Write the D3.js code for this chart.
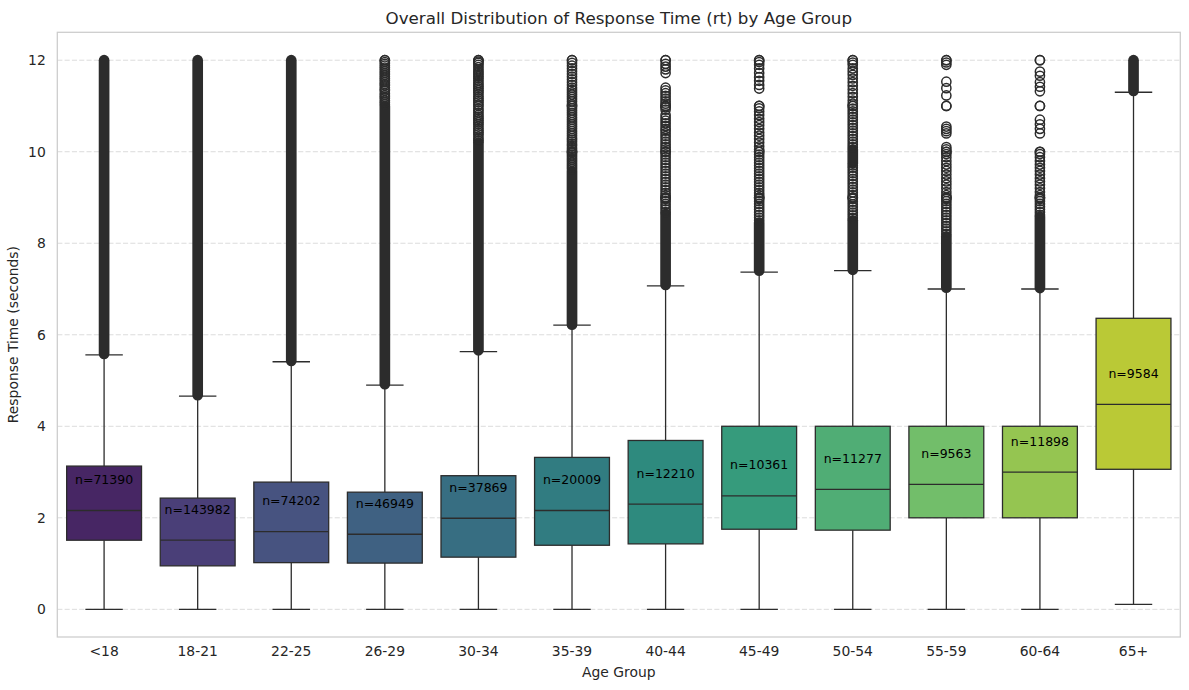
<!DOCTYPE html>
<html>
<head>
<meta charset="utf-8">
<script src="https://cdn.jsdelivr.net/npm/d3@7"></script>
<style>
  body { margin: 0; background: #fff; }
  text { font-family: "DejaVu Sans", sans-serif; }
</style>
</head>
<body>
<svg width="1189" height="690"></svg>
<script>
const ageGroups = ["<18","18-21","22-25","26-29","30-34","35-39","40-44","45-49","50-54","55-59","60-64","65+"];
const counts = [71390,143982,74202,46949,37869,20009,12210,10361,11277,9563,11898,9584];
const q1 = [1.51,0.95,1.02,1.01,1.14,1.40,1.43,1.75,1.73,2.0,2.0,3.06];
const medians = [2.16,1.51,1.70,1.64,1.99,2.16,2.30,2.48,2.62,2.73,3.0,4.48];
const q3 = [3.13,2.43,2.78,2.56,2.92,3.32,3.69,4.0,4.0,4.0,4.0,6.36];
const whiskerLow = [0,0,0,0,0,0,0,0,0,0,0,0.11];
const whiskerHigh = [5.56,4.66,5.41,4.90,5.63,6.21,7.07,7.37,7.40,7.0,7.0,11.3];
const labelPos = [2.83,2.19,2.37,2.32,2.66,2.83,2.96,3.16,3.29,3.40,3.66,5.16];
const yTicks = [0,2,4,6,8,10,12];

// outliers too packed to tell apart, as [from, to] runs
const denseOutliers = [
  [[5.58,12.0]],
  [[4.68,12.0]],
  [[5.43,12.0]],
  [[4.92,11.0]],
  [[5.66,10.2]],
  [[6.22,9.58]],
  [[7.09,8.64]],
  [[7.40,8.45]],
  [[7.42,8.5],[9.75,10.05]],
  [[7.03,8.15]],
  [[7.02,8.58]],
  [[11.33,12.0]]
];
const sparseOutliers = [
  [],
  [],
  [],
  [11.04,11.08,11.12,11.17,11.2,11.24,11.28,11.33,11.36,11.4,11.45,11.48,11.52,11.56,11.6,11.64,11.68,11.72,11.76,11.8,11.84,11.88,11.92,11.96,12.0,12.0],
  [10.24,10.28,10.33,10.38,10.42,10.46,10.5,10.55,10.6,10.64,10.68,10.72,10.76,10.8,10.85,10.9,10.94,11.0,11.03,11.08,11.12,11.16,11.2,11.25,11.3,11.34,11.38,11.42,11.46,11.5,11.55,11.6,11.64,11.68,11.72,11.76,11.8,11.85,11.9,11.94,11.97,12.0,12.0],
  [9.62,9.66,9.7,9.74,9.78,9.82,9.86,9.9,9.94,9.98,10.0,10.0,10.04,10.08,10.13,10.17,10.22,10.26,10.3,10.35,10.4,10.45,10.5,10.55,10.6,10.65,10.7,10.75,10.8,10.85,10.9,10.95,11.0,11.0,11.04,11.1,11.15,11.2,11.25,11.3,11.35,11.4,11.46,11.52,11.58,11.64,11.7,11.76,11.82,11.88,11.94,12.0,12.0],
  [8.68,8.74,8.8,8.86,8.92,8.97,9.0,9.0,9.05,9.1,9.16,9.22,9.28,9.34,9.4,9.46,9.52,9.58,9.64,9.7,9.76,9.82,9.88,9.94,10.0,10.0,10.05,10.1,10.16,10.22,10.28,10.34,10.4,10.46,10.5,10.56,10.62,10.68,10.74,10.8,10.92,10.97,11.0,11.0,11.05,11.1,11.16,11.22,11.28,11.34,11.4,11.72,11.8,11.86,11.92,12.0,12.0],
  [8.5,8.56,8.62,8.68,8.74,8.8,8.86,8.92,8.97,9.0,9.0,9.05,9.1,9.16,9.22,9.28,9.34,9.4,9.46,9.52,9.58,9.64,9.7,9.76,9.82,9.88,9.94,10.0,10.0,10.05,10.12,10.2,10.28,10.35,10.42,10.5,10.58,10.65,10.72,10.8,10.88,10.95,11.0,11.0,11.38,11.46,11.55,11.63,11.72,11.82,11.9,11.96,12.0,12.0],
  [8.55,8.61,8.67,8.73,8.79,8.85,8.91,8.97,9.0,9.0,9.05,9.11,9.17,9.23,9.29,9.35,9.41,9.47,9.53,9.59,9.65,9.7,10.1,10.16,10.22,10.28,10.34,10.4,10.46,10.52,10.58,10.64,10.7,10.76,10.82,10.88,10.94,11.0,11.0,11.05,11.12,11.2,11.28,11.36,11.44,11.52,11.6,11.68,11.75,11.82,11.9,11.95,12.0,12.0],
  [8.2,8.26,8.32,8.38,8.44,8.5,8.56,8.62,8.68,8.74,8.8,8.86,8.92,8.97,9.0,9.0,9.05,9.12,9.2,9.28,9.35,9.42,9.5,9.58,9.65,9.72,9.8,9.88,9.95,10.0,10.0,10.05,10.1,10.4,10.45,10.5,10.55,11.0,11.0,11.23,11.39,11.53,11.9,11.95,12.0,12.0],
  [8.62,8.68,8.74,8.8,8.86,8.92,8.97,9.0,9.0,9.05,9.12,9.2,9.28,9.35,9.42,9.5,9.58,9.65,9.72,9.8,9.88,9.95,10.0,10.0,10.4,10.5,10.6,10.7,11.0,11.0,11.32,11.42,11.52,11.66,11.75,12.0,12.0],
  []
];

const svgWidth = 1189;
const svgHeight = 690;
const margin = {top: 32.3, left: 57.3, bottom: 53, right: 8.7};
const width = svgWidth - margin.left - margin.right;
const height = svgHeight - margin.top - margin.bottom;

const lineColor = "#2c2c2c";
const textColor = "#262626";

const xScale = d3.scaleBand().domain(ageGroups).range([0, width]).padding(0);
const yScale = d3.scaleLinear().domain([-0.605, 12.61]).range([height, 0]);

const boxW = xScale.bandwidth() * 0.8;
const capW = boxW / 2;
const r = 4.6;

const color = ageGroups.map((g, i) => {
  const c = d3.hsl(d3.interpolateViridis((i + 1) / (ageGroups.length + 1)));
  c.s *= 0.75;
  return c.formatHex();
});

const svg = d3.select("svg");

const g = svg.append("g")
  .attr("transform", `translate(${margin.left},${margin.top})`);

// grid
g.append("g")
  .selectAll("line")
  .data(yTicks)
  .enter()
  .append("line")
  .attr("x1", 0)
  .attr("x2", width)
  .attr("y1", d => yScale(d))
  .attr("y2", d => yScale(d))
  .attr("stroke", "#dcdcdc")
  .attr("stroke-width", 1)
  .attr("stroke-dasharray", "5.1,2.2");

const yAxis = d3.axisLeft(yScale).tickValues(yTicks).tickSize(0).tickPadding(11.5);
g.append("g")
  .attr("class", "yAxis")
  .call(yAxis)
  .call(a => a.select(".domain").remove())
  .selectAll("text")
  .style("font-size", "13.9px")
  .attr("fill", textColor);

const xAxis = d3.axisBottom(xScale).tickSize(0).tickPadding(9.5);
g.append("g")
  .attr("class", "xAxis")
  .attr("transform", `translate(0,${height})`)
  .call(xAxis)
  .call(a => a.select(".domain").remove())
  .selectAll("text")
  .style("font-size", "13.9px")
  .attr("fill", textColor);

const boxes = g.selectAll(".box")
  .data(ageGroups)
  .enter()
  .append("g")
  .attr("class", "box")
  .attr("transform", d => `translate(${xScale(d) + xScale.bandwidth() / 2},0)`);

// whiskers
boxes.append("line")
  .attr("x1", 0).attr("x2", 0)
  .attr("y1", (d, i) => yScale(q3[i]))
  .attr("y2", (d, i) => yScale(whiskerHigh[i]))
  .attr("stroke", lineColor).attr("stroke-width", 1.3);
boxes.append("line")
  .attr("x1", 0).attr("x2", 0)
  .attr("y1", (d, i) => yScale(q1[i]))
  .attr("y2", (d, i) => yScale(whiskerLow[i]))
  .attr("stroke", lineColor).attr("stroke-width", 1.3);

// outliers
boxes.each(function(d, i) {
  const sel = d3.select(this);
  sel.selectAll(".dense")
    .data(denseOutliers[i])
    .enter()
    .append("line")
    .attr("class", "dense")
    .attr("x1", 0).attr("x2", 0)
    .attr("y1", v => yScale(v[0]))
    .attr("y2", v => yScale(v[1]))
    .attr("stroke", lineColor)
    .attr("stroke-width", 2 * r + 1.5)
    .attr("stroke-linecap", "round");
  sel.selectAll(".flier")
    .data(sparseOutliers[i])
    .enter()
    .append("circle")
    .attr("class", "flier")
    .attr("cx", 0)
    .attr("cy", v => yScale(v))
    .attr("r", r)
    .attr("fill", "none")
    .attr("stroke", lineColor)
    .attr("stroke-width", 1.5);
});

boxes.append("line")
  .attr("x1", -capW / 2).attr("x2", capW / 2)
  .attr("y1", (d, i) => yScale(whiskerHigh[i]))
  .attr("y2", (d, i) => yScale(whiskerHigh[i]))
  .attr("stroke", lineColor).attr("stroke-width", 1.3);
boxes.append("line")
  .attr("x1", -capW / 2).attr("x2", capW / 2)
  .attr("y1", (d, i) => yScale(whiskerLow[i]))
  .attr("y2", (d, i) => yScale(whiskerLow[i]))
  .attr("stroke", lineColor).attr("stroke-width", 1.3);

boxes.append("rect")
  .attr("x", -boxW / 2)
  .attr("width", boxW)
  .attr("y", (d, i) => yScale(q3[i]))
  .attr("height", (d, i) => yScale(q1[i]) - yScale(q3[i]))
  .attr("fill", (d, i) => color[i])
  .attr("stroke", lineColor)
  .attr("stroke-width", 1.3);

boxes.append("line")
  .attr("x1", -boxW / 2).attr("x2", boxW / 2)
  .attr("y1", (d, i) => yScale(medians[i]))
  .attr("y2", (d, i) => yScale(medians[i]))
  .attr("stroke", lineColor).attr("stroke-width", 1.3);

boxes.append("text")
  .attr("x", 0)
  .attr("y", (d, i) => yScale(labelPos[i]))
  .attr("dy", "0.36em")
  .attr("text-anchor", "middle")
  .style("font-size", "12.5px")
  .attr("fill", "#000")
  .text((d, i) => "n=" + counts[i]);

// frame
g.append("rect")
  .attr("x", 0).attr("y", 0)
  .attr("width", width).attr("height", height)
  .attr("fill", "none")
  .attr("stroke", "#cccccc")
  .attr("stroke-width", 1.25);

svg.append("text")
  .attr("x", margin.left + width / 2)
  .attr("y", 24)
  .attr("text-anchor", "middle")
  .style("font-size", "16.7px")
  .attr("fill", textColor)
  .text("Overall Distribution of Response Time (rt) by Age Group");

svg.append("text")
  .attr("x", margin.left + width / 2)
  .attr("y", 676.8)
  .attr("text-anchor", "middle")
  .style("font-size", "13.9px")
  .attr("fill", textColor)
  .text("Age Group");

svg.append("text")
  .attr("transform", `translate(18.4,${margin.top + height / 2}) rotate(-90)`)
  .attr("text-anchor", "middle")
  .style("font-size", "13.9px")
  .attr("fill", textColor)
  .text("Response Time (seconds)");
</script>
</body>
</html>
